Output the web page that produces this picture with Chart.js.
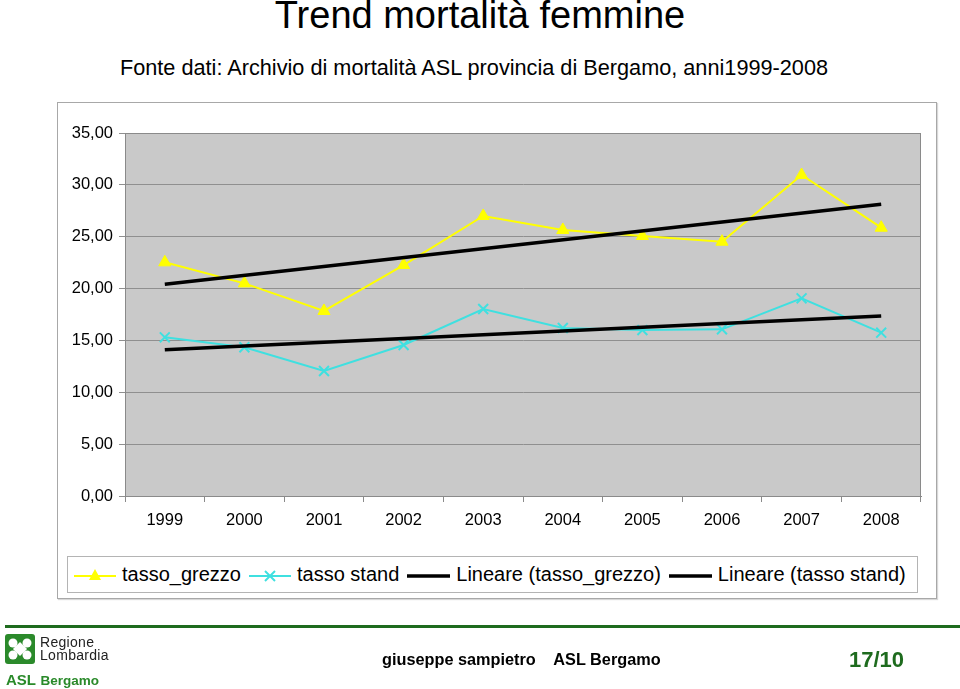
<!DOCTYPE html>
<html>
<head>
<meta charset="utf-8">
<script src="https://cdn.jsdelivr.net/npm/chart.js@4.4.1/dist/chart.umd.min.js"></script>
<style>
  html, body { margin: 0; padding: 0; background: #fff; }
  body { width: 960px; height: 689px; position: relative; overflow: hidden; font-family: "Liberation Sans", Arial, sans-serif; }
  .abs { position: absolute; }
  #title { left: 0; width: 960px; top: -6px; text-align: center; font-size: 38px; color: #000; }
  #subtitle { left: 0; width: 948px; top: 55px; text-align: center; font-size: 21.7px; color: #000; }
  #frame { left: 57px; top: 102px; width: 878px; height: 495px; border: 1px solid #a8a8a8; box-shadow: 1px 1px 1px #d8d8d8; background: #fff; }
  #legend { left: 67px; top: 556px; width: 849px; height: 35px; border: 1px solid #b4b4b4; display: flex; align-items: center; font-size: 20px; color: #000; box-sizing: content-box; }
  .item { display: flex; align-items: center; margin-left: 8px; }
  .item:first-child { margin-left: 6px; }
  .item svg { margin-right: 6px; }
  #chart { left: 0; top: 0; }
  #rule { left: 5px; top: 625px; width: 955px; height: 3px; background: #1e6b1e; }
  #reg { left: 40px; top: 636px; font-size: 14px; line-height: 12.5px; color: #222; letter-spacing: 0.3px; }
  #asl { left: 6px; top: 671px; color: #2a8a2a; white-space: nowrap; }
  #author { left: 382px; top: 650px; font-size: 16.3px; font-weight: bold; color: #000; white-space: nowrap; }
  #page { left: 849px; top: 647px; font-size: 22px; font-weight: bold; color: #1e6b1e; }
</style>
</head>
<body>
<div id="title" class="abs">Trend mortalità femmine</div>
<div id="subtitle" class="abs">Fonte dati: Archivio di mortalità ASL provincia di Bergamo, anni1999-2008</div>
<div id="frame" class="abs"></div>
<div id="legend" class="abs">
  <div class="item">
    <svg width="42" height="20"><line x1="0" y1="11" x2="42" y2="11" stroke="#ffff00" stroke-width="2"/><polygon points="21,4 27,15 15,15" fill="#ffff00"/></svg>
    <span>tasso_grezzo</span>
  </div>
  <div class="item">
    <svg width="42" height="20"><line x1="0" y1="11" x2="42" y2="11" stroke="#3fe0e0" stroke-width="2"/><line x1="16" y1="6" x2="26" y2="16" stroke="#3fe0e0" stroke-width="2"/><line x1="26" y1="6" x2="16" y2="16" stroke="#3fe0e0" stroke-width="2"/></svg>
    <span>tasso stand</span>
  </div>
  <div class="item">
    <svg width="43" height="20"><line x1="0" y1="11" x2="43" y2="11" stroke="#000" stroke-width="3.5"/></svg>
    <span>Lineare (tasso_grezzo)</span>
  </div>
  <div class="item">
    <svg width="43" height="20"><line x1="0" y1="11" x2="43" y2="11" stroke="#000" stroke-width="3.5"/></svg>
    <span>Lineare (tasso stand)</span>
  </div>
</div>
<canvas id="chart" class="abs" width="960" height="689"></canvas>

<div id="rule" class="abs"></div>
<svg class="abs" style="left:5px;top:634px" width="30" height="30">
  <rect x="0" y="0" width="30" height="30" rx="3" fill="#2b8a2b"/>
  <g fill="#fff">
    <circle cx="8" cy="9" r="4.5"/><circle cx="22" cy="9" r="4.5"/>
    <circle cx="8" cy="21" r="4.5"/><circle cx="22" cy="21" r="4.5"/>
    <rect x="10" y="10" width="10" height="10" transform="rotate(45 15 15)"/>
  </g>
</svg>
<div id="reg" class="abs">Regione<br>Lombardia</div>
<div id="asl" class="abs"><span style="font-size:15px;font-weight:bold">ASL</span> <span style="font-size:13.5px;font-weight:bold">Bergamo</span></div>
<div id="author" class="abs">giuseppe sampietro&nbsp;&nbsp;&nbsp; ASL Bergamo</div>
<div id="page" class="abs">17/10</div>

<script>
// Trend mortalità femmine, 1999-2008
const years = ['1999', '2000', '2001', '2002', '2003', '2004', '2005', '2006', '2007', '2008'];
const tassoGrezzo = [22.53, 20.50, 17.84, 22.27, 27.00, 25.65, 25.07, 24.52, 30.95, 25.87];
const tassoStand = [15.30, 14.34, 12.05, 14.56, 18.03, 16.20, 16.00, 16.07, 19.06, 15.75];
// trend lines, read at the two ends
const lineareGrezzo = [20.41, null, null, null, null, null, null, null, null, 28.12];
const lineareStand = [14.11, null, null, null, null, null, null, null, null, 17.36];
const yTicks = [0, 5, 10, 15, 20, 25, 30, 35];

// grey plot area with a thin border
const plotBackground = {
  id: 'plotBackground',
  beforeDraw(chart) {
    const { ctx, chartArea: a } = chart;
    ctx.save();
    ctx.fillStyle = '#c9c9c9';
    ctx.fillRect(a.left, a.top, a.right - a.left, a.bottom - a.top);
    ctx.restore();
  },
  afterDatasetsDraw(chart) {
    const { ctx, chartArea: a } = chart;
    ctx.save();
    ctx.strokeStyle = '#8a8a8a';
    ctx.lineWidth = 1;
    ctx.strokeRect(a.left + 0.5, a.top + 0.5, a.right - a.left - 1, a.bottom - a.top);
    ctx.restore();
  }
};

new Chart(document.getElementById('chart'), {
  type: 'line',
  data: {
    labels: years,
    datasets: [
      {
        label: 'tasso_grezzo',
        data: tassoGrezzo,
        borderColor: '#ffff00',
        backgroundColor: '#ffff00',
        borderWidth: 2,
        pointStyle: 'triangle',
        pointRadius: 7,
        pointBorderWidth: 1,
        order: 2
      },
      {
        label: 'tasso stand',
        data: tassoStand,
        borderColor: '#3fe0e0',
        backgroundColor: '#3fe0e0',
        borderWidth: 2,
        pointStyle: 'crossRot',
        pointRadius: 7,
        pointBorderWidth: 2,
        order: 2
      },
      {
        label: 'Lineare (tasso_grezzo)',
        data: lineareGrezzo,
        borderColor: '#000',
        borderWidth: 3.5,
        pointRadius: 0,
        spanGaps: true,
        order: 1
      },
      {
        label: 'Lineare (tasso stand)',
        data: lineareStand,
        borderColor: '#000',
        borderWidth: 3.5,
        pointRadius: 0,
        spanGaps: true,
        order: 1
      }
    ]
  },
  options: {
    responsive: false,
    animation: false,
    layout: { padding: { left: 0, top: 133, right: 39, bottom: 153 } },
    plugins: {
      legend: { display: false },
      tooltip: { enabled: false }
    },
    scales: {
      x: {
        offset: true,
        afterFit: (s) => { s.height = 40; },
        grid: { offset: true, drawOnChartArea: false, tickLength: 6, color: '#8a8a8a' },
        border: { color: '#8a8a8a' },
        ticks: {
          color: '#000',
          padding: 9,
          font: { family: 'Liberation Sans', size: 16.5 }
        }
      },
      y: {
        min: 0,
        max: 35,
        afterFit: (s) => { s.width = 125; },
        afterBuildTicks: (s) => { s.ticks = yTicks.map(v => ({ value: v })); },
        grid: { color: '#8f8f8f', tickLength: 6 },
        border: { color: '#8a8a8a' },
        ticks: {
          color: '#000',
          padding: 6,
          font: { family: 'Liberation Sans', size: 16.5 },
          callback: (v) => v.toFixed(2).replace('.', ',')
        }
      }
    }
  },
  plugins: [plotBackground]
});
</script>
</body>
</html>
